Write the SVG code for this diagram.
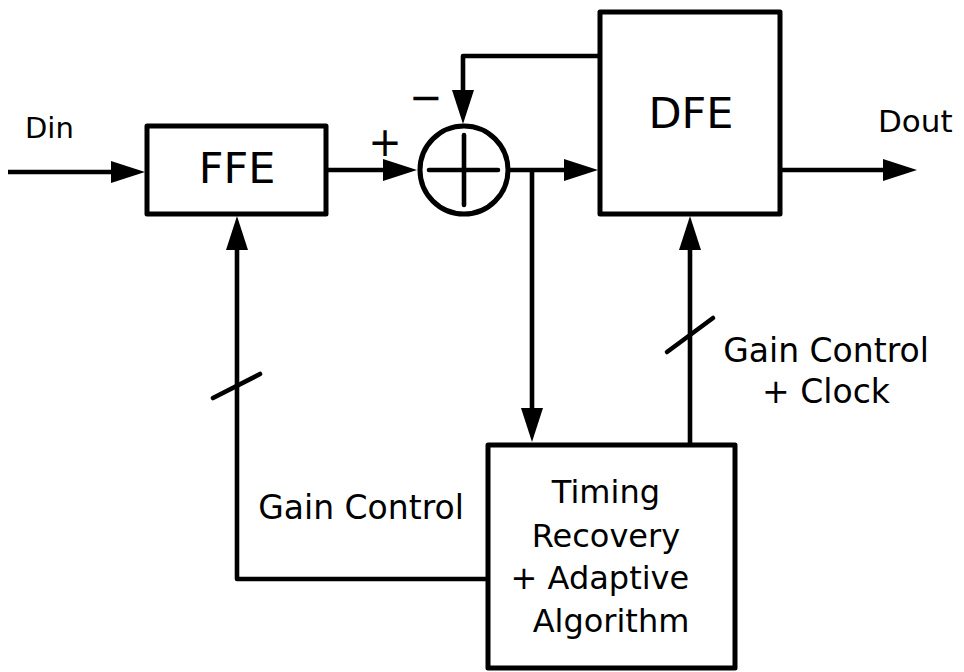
<svg xmlns="http://www.w3.org/2000/svg" width="964" height="672" viewBox="0 0 964 672">
<style>
.box{fill:#fff;stroke:#000;stroke-width:5;stroke-linejoin:round}
.ln{fill:none;stroke:#000;stroke-width:4.6;stroke-linejoin:round}
.sl{fill:none;stroke:#000;stroke-width:4.6;stroke-linecap:round}
.t{font-family:"DejaVu Sans",sans-serif;fill:#000}
</style>
<defs>
<marker id="ah" markerUnits="userSpaceOnUse" markerWidth="36" markerHeight="24" refX="24" refY="11" orient="auto">
<path d="M0,0 L34,11 L0,22 z" fill="#000"/>
</marker>
</defs>
<rect width="964" height="672" fill="#fff"/>
<g id="connectors">
<path class="ln" d="M8,172 H135" marker-end="url(#ah)"/>
<path class="ln" d="M328,170 H407" marker-end="url(#ah)"/>
<path class="ln" d="M510,170 H588" marker-end="url(#ah)"/>
<path class="ln" d="M782,170 H907" marker-end="url(#ah)"/>
<path class="ln" d="M600,56 H463 V114" marker-end="url(#ah)"/>
<path class="ln" d="M532,170 V432" marker-end="url(#ah)"/>
<path class="ln" d="M690,445 V226" marker-end="url(#ah)"/>
<path class="ln" d="M488,579 H237 V226" marker-end="url(#ah)"/>
<path class="sl" d="M667,352 L713,318"/>
<path class="sl" d="M213,398 L260,374"/>
<text class="t" x="25" y="138" font-size="29">Din</text>
<text class="t" x="878" y="132" font-size="31">Dout</text>
<text class="t" x="385" y="156" font-size="40" text-anchor="middle">+</text>
<text class="t" x="426" y="111" font-size="40" text-anchor="middle">−</text>
<text class="t" x="826" y="362" font-size="33" text-anchor="middle">Gain Control</text>
<text class="t" x="826" y="403" font-size="33" text-anchor="middle">+ Clock</text>
<text class="t" x="361" y="519" font-size="33" text-anchor="middle">Gain Control</text>
</g>
<g id="ffe">
<rect class="box" x="147" y="126" width="179" height="88"/>
<text class="t" x="237" y="183" font-size="43" text-anchor="middle">FFE</text>
</g>
<g id="summer">
<circle cx="464" cy="170" r="44" fill="#fff" stroke="#000" stroke-width="5"/>
<path class="sl" d="M429,170 H498 M464,135 V205" stroke-width="5"/>
</g>
<g id="dfe">
<rect class="box" x="600" y="12" width="180" height="202"/>
<text class="t" x="691" y="128" font-size="43" text-anchor="middle">DFE</text>
</g>
<g id="timing">
<rect class="box" x="488" y="445" width="247" height="223"/>
<text class="t" font-size="32" text-anchor="middle">
<tspan x="611" y="503">Timing</tspan>
<tspan x="611" y="547">Recovery</tspan>
<tspan x="605" y="589">+ Adaptive</tspan>
<tspan x="611" y="632">Algorithm</tspan>
</text>
</g>
</svg>
